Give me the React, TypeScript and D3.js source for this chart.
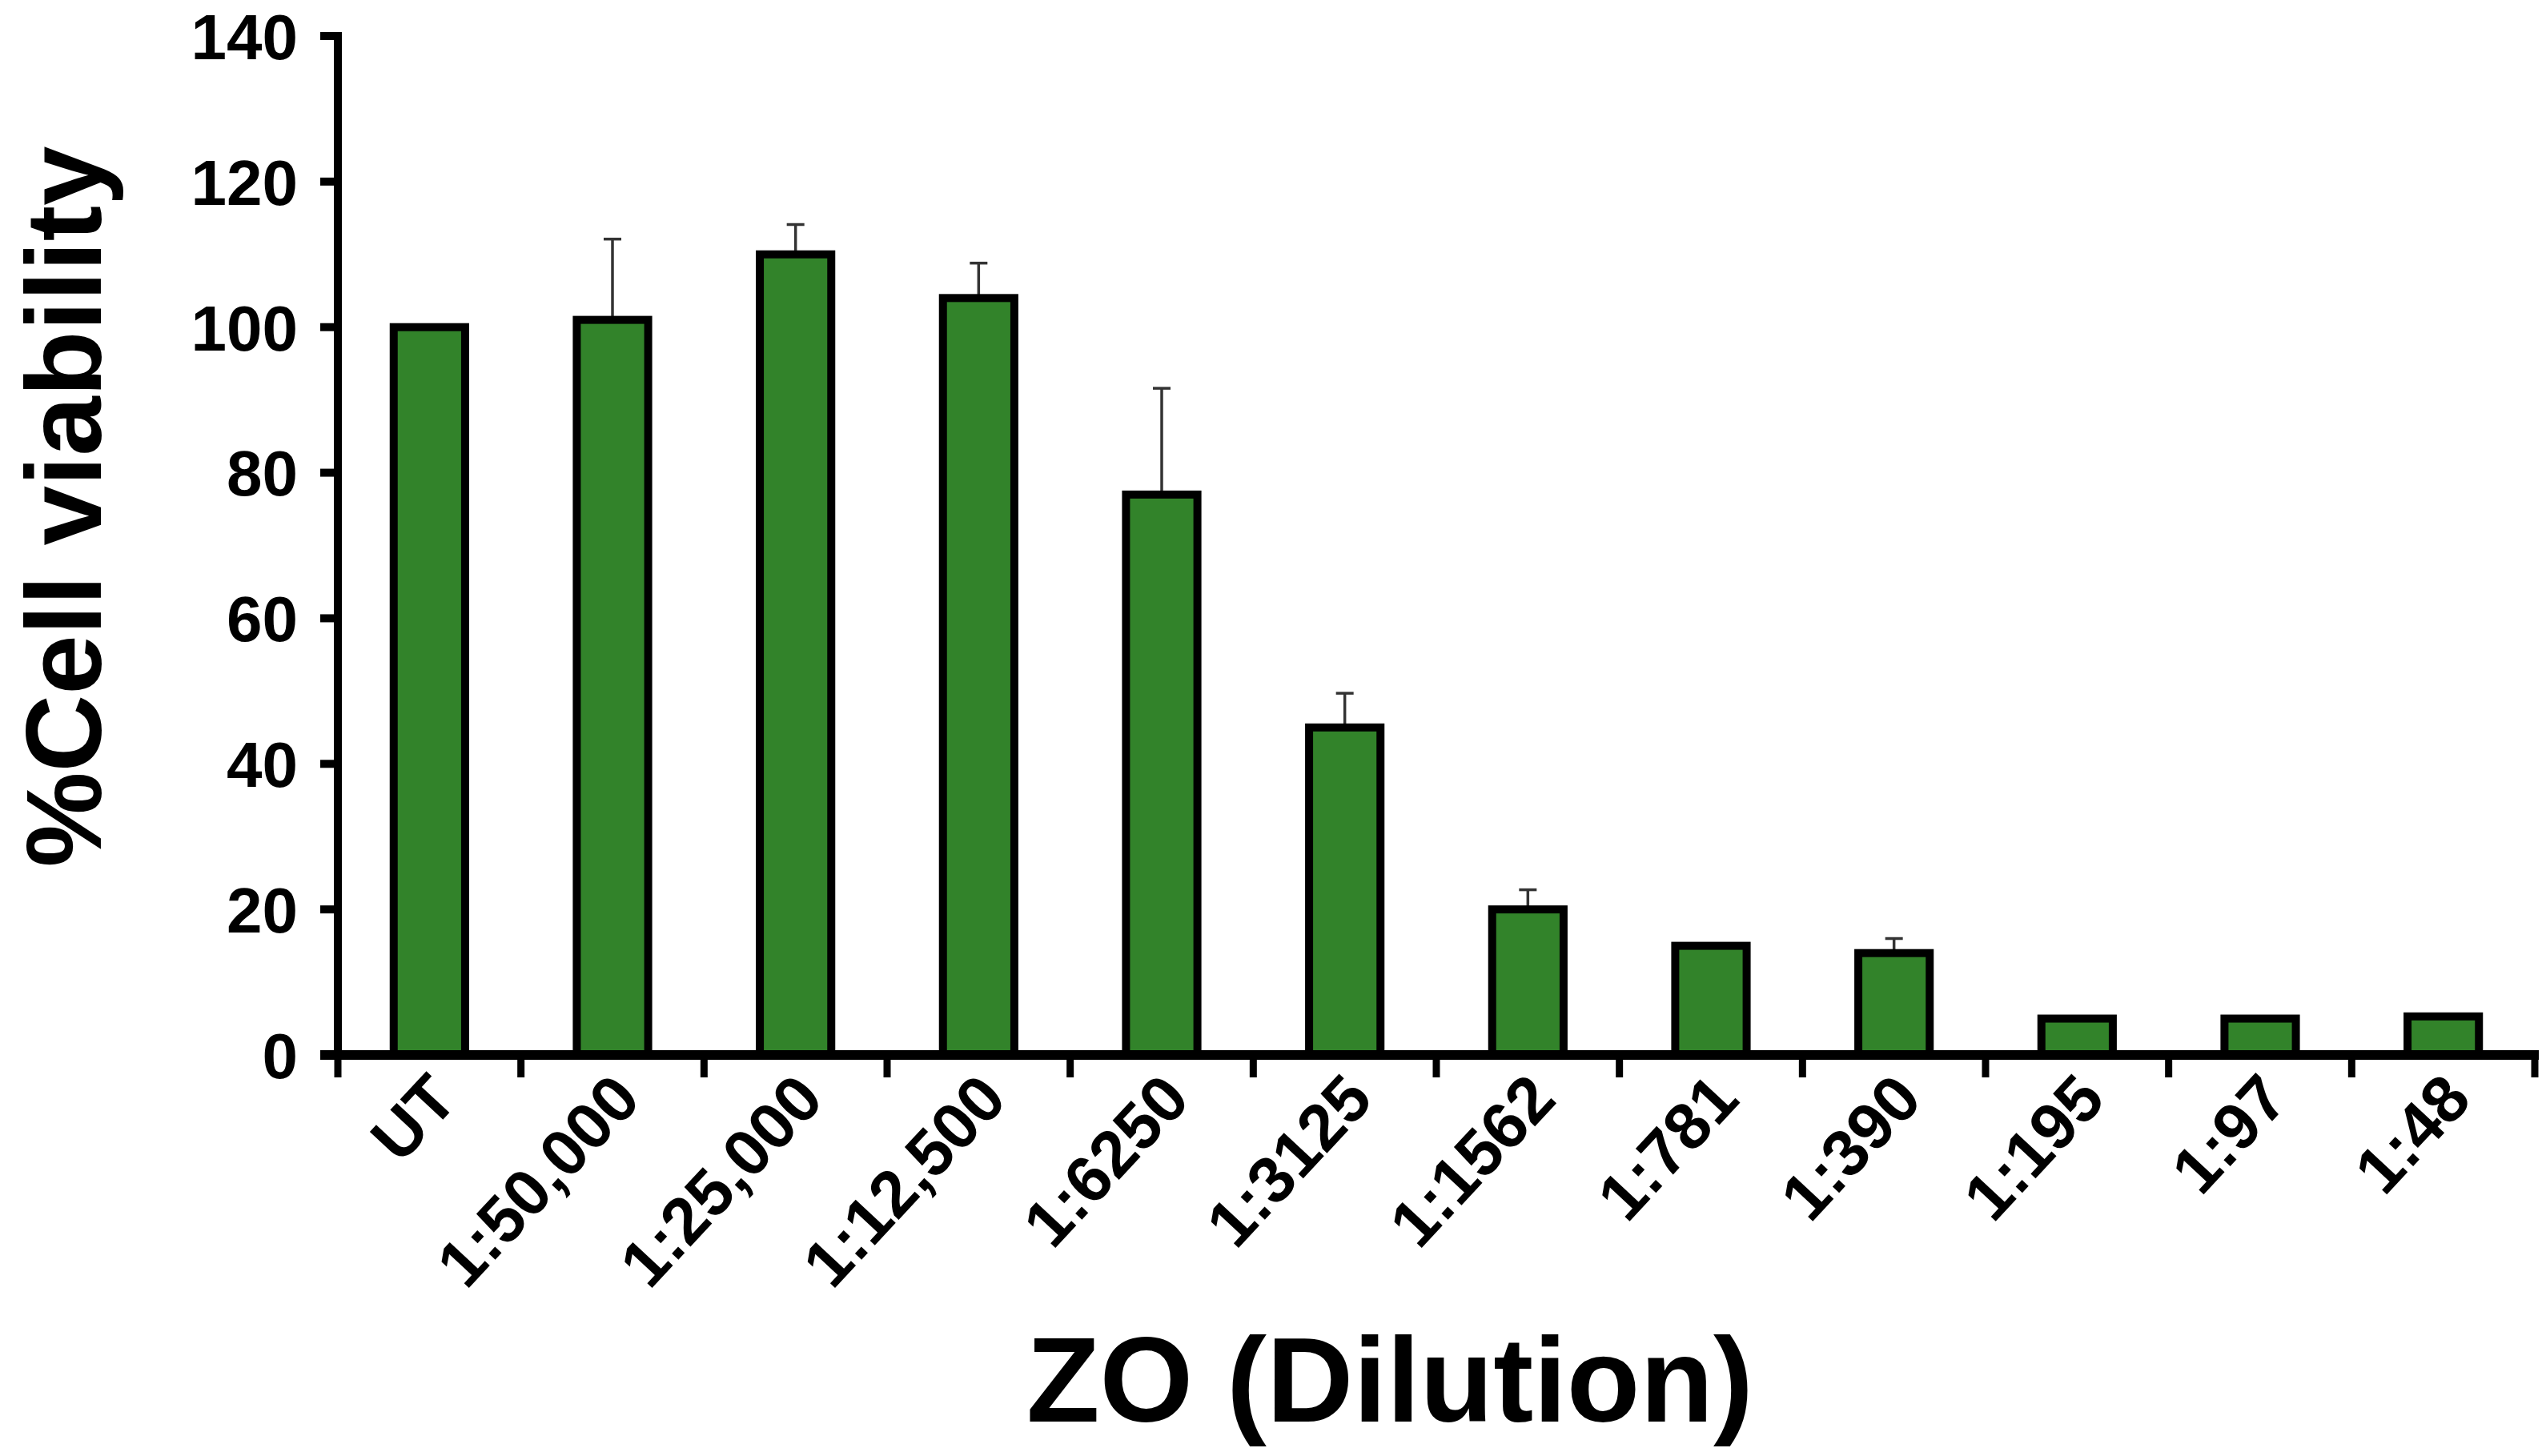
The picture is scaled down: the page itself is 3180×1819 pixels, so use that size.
import React from "react";
import * as d3 from "d3";

const categories = ["UT", "1:50,000", "1:25,000", "1:12,500", "1:6250", "1:3125", "1:1562", "1:781", "1:390", "1:195", "1:97", "1:48"];
const viability = [100, 101, 110, 104, 77, 45, 20, 15, 14, 5, 5, 5.3];
const errorUp = [0, 11.1, 4.1, 4.8, 14.6, 4.7, 2.7, 0, 2, 0, 0, 0];
const yTicks = [0, 20, 40, 60, 80, 100, 120, 140];

const W = 3180;
const H = 1819;
const x0 = 422;
const x1 = 3166;
const yBottom = 1318;
const yTop = 45;
const FONT = "'Liberation Sans', Arial, sans-serif";

export default function App() {
  const x = d3.scaleBand<string>().domain(categories).range([x0, x1]).paddingInner(0).paddingOuter(0);
  const y = d3.scaleLinear().domain([0, 140]).range([yBottom, yTop]);
  const bw = x.bandwidth();
  const barW = bw * 0.39;
  const strokeW = 10;

  return (
    <svg width={W} height={H} style={{ position: "absolute", left: 0, top: 0, background: "#fff" }}>
      <rect x={0} y={0} width={W} height={H} fill="#fff" />
      {/* error bars */}
      {categories.map((c, i) => {
        if (!errorUp[i]) return null;
        const cx = (x(c) as number) + bw / 2;
        const yt = y(viability[i] + errorUp[i]);
        return (
          <g key={"e" + i} stroke="#333" strokeWidth={3.5}>
            <line x1={cx} x2={cx} y1={y(viability[i])} y2={yt} />
            <line x1={cx - 11} x2={cx + 11} y1={yt} y2={yt} />
          </g>
        );
      })}
      {/* bars */}
      {categories.map((c, i) => {
        const cx = (x(c) as number) + bw / 2;
        return (
          <rect
            key={"b" + i}
            x={cx - barW / 2}
            y={y(viability[i])}
            width={barW}
            height={yBottom - y(viability[i])}
            fill="#32832a"
            stroke="#000"
            strokeWidth={strokeW}
          />
        );
      })}
      {/* y axis */}
      <line x1={x0} x2={x0} y1={yTop - 5} y2={yBottom + 6} stroke="#000" strokeWidth={10} />
      {yTicks.map((t) => (
        <g key={"yt" + t}>
          <line x1={x0 - 22} x2={x0} y1={y(t)} y2={y(t)} stroke="#000" strokeWidth={10} />
          <text x={372} y={y(t)} dy="0.36em" textAnchor="end" fontFamily={FONT} fontWeight="bold" fontSize={80} fill="#000">
            {t}
          </text>
        </g>
      ))}
      {/* x axis */}
      <line x1={x0 - 22} x2={x1 + 5} y1={yBottom} y2={yBottom} stroke="#000" strokeWidth={12} />
      {categories.map((c, i) => (
        <line key={"xt" + i} x1={x(c) as number} x2={x(c) as number} y1={yBottom} y2={yBottom + 28} stroke="#000" strokeWidth={9} />
      ))}
      <line x1={x1} x2={x1} y1={yBottom} y2={yBottom + 28} stroke="#000" strokeWidth={9} />
      {categories.map((c, i) => {
        const cx = (x(c) as number) + bw / 2;
        const ax = cx + 38;
        const ay = yBottom + 58;
        return (
          <text
            key={"xl" + i}
            transform={`translate(${ax},${ay}) rotate(-47)`}
            textAnchor="end"
            fontFamily={FONT}
            fontWeight="bold"
            fontSize={82}
            fill="#000"
          >
            {c}
          </text>
        );
      })}
      {/* axis titles */}
      <text
        transform={`translate(126,633) rotate(-90)`}
        textAnchor="middle"
        fontFamily={FONT}
        fontWeight="bold"
        fontSize={134}
        fill="#000"
      >
        %Cell viability
      </text>
      <text x={1736} y={1776} textAnchor="middle" fontFamily={FONT} fontWeight="bold" fontSize={150} fill="#000">
        ZO (Dilution)
      </text>
    </svg>
  );
}
